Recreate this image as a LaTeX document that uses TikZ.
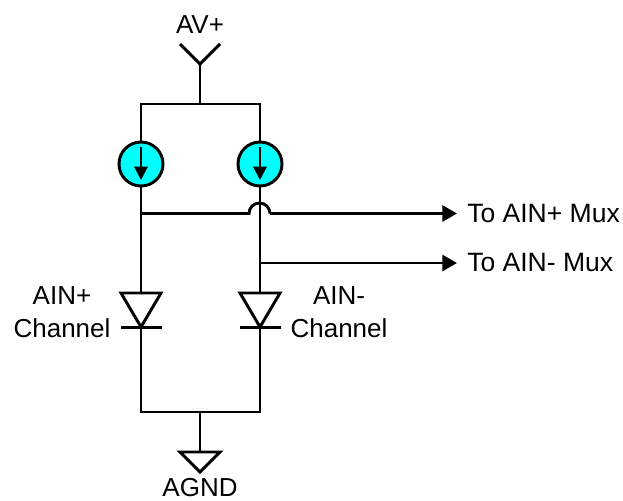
\documentclass[tikz,border=0pt]{standalone}
\usepackage{fontspec}
\setmainfont{Liberation Sans}
\usetikzlibrary{arrows.meta}
\definecolor{srcfill}{HTML}{00FFFF}
\tikzset{
  wire/.style={line width=2.2pt,line join=miter,black},
  source/.style={circle,draw=black,line width=2.2pt,fill=srcfill,minimum size=33pt,inner sep=0pt},
  lab/.style={font=\fontsize{19.5pt}{25pt}\selectfont,inner sep=0pt,text=black,align=center},
  onelab/.style={font=\fontsize{19.5pt}{24pt}\selectfont,inner sep=0pt,text=black},
  outlab/.style={font=\fontsize{19.9pt}{24pt}\selectfont,inner sep=0pt,text=black},
  outarrow/.style={wire,-{Triangle[length=11pt,width=12pt]}},
  downarrow/.style={line width=1.5pt,black,-{Triangle[length=10pt,width=10pt]}},
}
\begin{document}
\begin{tikzpicture}[x=0.75pt,y=-0.75pt]
\useasboundingbox (0,0) rectangle (623,500);
% named points
\coordinate (vtip) at (200,64);
\coordinate (vl) at (180,44);
\coordinate (vr) at (220,44);
\coordinate (busT) at (200,104);
\coordinate (busTL) at (141,104);
\coordinate (busTR) at (260,104);
\coordinate (busB) at (200,412);
\coordinate (busBL) at (141,412);
\coordinate (busBR) at (260,412);
\coordinate (junL) at (141,213.5);
\coordinate (junR) at (260,263);
\coordinate (hopA) at (249,213.5);
\coordinate (hopB) at (270,213.5);
\coordinate (d1t) at (141,293);
\coordinate (d1a) at (141,327);
\coordinate (d2t) at (260,293);
\coordinate (d2a) at (260,327);
\coordinate (g) at (200,452);
\coordinate (gtip) at (200,472);
% wires behind the sources
\draw[wire] (vl) -- (vtip) -- (vr);
\draw[wire] (vtip) -- (busT);
\draw[wire] (busBL) -- (busTL) -- (busTR) -- (busBR) -- cycle;
\draw[wire] (busB) -- (g);
% current sources
\node[source] (s1) at (141,164) {};
\node[source] (s2) at (260,164) {};
\coordinate (s1t) at (141,147);
\coordinate (s1b) at (141,180);
\coordinate (s2t) at (260,147);
\coordinate (s2b) at (260,180);
\draw[downarrow] (s1t) -- (s1b);
\draw[downarrow] (s2t) -- (s2b);
% diodes
\draw[wire,fill=white] (121,293) -- (161,293) -- (d1a) -- cycle;
\draw[wire,fill=white] (240,293) -- (280,293) -- (d2a) -- cycle;
\draw[wire] (120.5,327.5) -- (161.5,327.5);
\draw[wire] (239.5,327.5) -- (280.5,327.5);
% ground
\draw[wire,fill=white] (180,452) -- (220,452) -- (gtip) -- cycle;
% outputs
\node[outlab,anchor=base west] (o1) at (467,222) {To AIN+ Mux};
\node[outlab,anchor=base west] (o2) at (467,271) {To AIN- Mux};
\draw[wire] (junL) -- (hopA) arc[start angle=180,end angle=360,radius=10.5];
\draw[outarrow] (hopB) -- (457,213.5);
\draw[outarrow] (junR) -- (457,263);
% labels
\node[onelab,anchor=base] (vp) at (200,33) {AV+};
\node[onelab,anchor=base] (agnd) at (200,496) {AGND};
\node[lab] (l1) at (62,312) {AIN+\\Channel};
\node[lab] (l2) at (339,312) {AIN-\\Channel};
\end{tikzpicture}
\end{document}
